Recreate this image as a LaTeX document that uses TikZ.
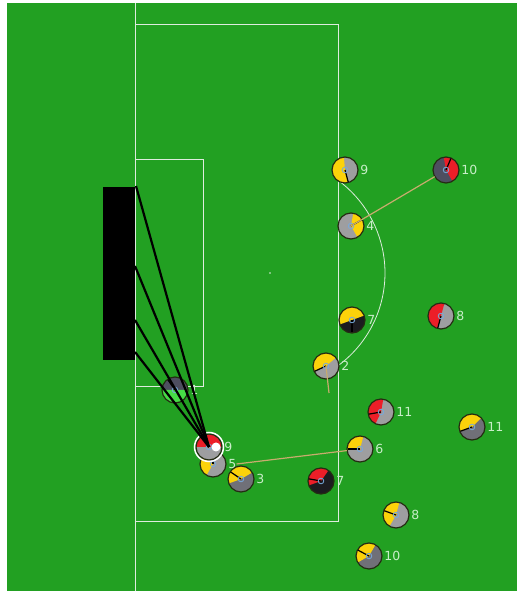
\documentclass[tikz,border=0pt]{standalone}
\usepackage{fontspec}
\setsansfont{DejaVu Sans}
\usepackage{xcolor}
\usetikzlibrary{calc}

\definecolor{pitch}{RGB}{34,160,34}
\definecolor{chalk}{RGB}{222,236,222}
\definecolor{tyellow}{RGB}{252,210,10}
\definecolor{tred}{RGB}{236,30,40}
\definecolor{tgreen}{RGB}{70,220,70}
\definecolor{tslate}{RGB}{78,78,96}
\definecolor{tblack}{RGB}{28,28,32}
\definecolor{rgray}{RGB}{158,158,160}
\definecolor{rgrayd}{RGB}{112,112,120}
\definecolor{rim}{RGB}{36,44,18}
\definecolor{eyeblue}{RGB}{120,170,220}
\definecolor{numcol}{RGB}{200,238,200}
\definecolor{tan}{RGB}{200,172,110}

% robot: name, x, y, team colour, back colour, from, to, heading, number
\newcommand{\robot}[9]{%
  \node[robot, fill=#5] (#1) at (#2,#3) {};
  \fill[#4] (#1.center) -- ++(#6:13) arc[start angle=#6, end angle=#7, radius=13] -- cycle;
  \draw[robotrim] (#1.center) circle[radius=13];
  \draw[heading] (#1.center) -- ++(#8:12.5);
  \draw[eye] (#1.center) circle[radius=2.8];
  \node[num] (#1num) at ([xshift=2pt]#1.east) {#9};
}

\begin{document}
\begin{tikzpicture}[x=1pt, y=1pt,
  font=\sffamily\fontsize{12.5}{14}\selectfont,
  robot/.style={circle, minimum size=26pt, inner sep=0pt},
  robotrim/.style={draw=rim, line width=1.2pt},
  heading/.style={black, line width=1.2pt},
  eye/.style={draw=eyeblue, line width=0.8pt},
  num/.style={anchor=west, inner sep=0pt, text=numcol},
  fieldline/.style={chalk, line width=1pt},
  shotline/.style={black, line width=2.2pt},
  tanline/.style={tan, line width=1.2pt}]
  \useasboundingbox (0,0) rectangle (517,591);
  \fill[white] (0,0) rectangle (517,591);
  \fill[pitch] (7,0) rectangle (517,588);
  % field markings
  \draw[fieldline] (135,0) -- (135,588);
  \draw[fieldline] (135,566) -- (338,566) -- (338,69) -- (135,69);
  \draw[fieldline] (135,431) -- (203,431) -- (203,204) -- (135,204);
  \draw[fieldline, line width=0.8pt] ($(270,318)+(-53.7:115)$) arc[start angle=-53.7, end angle=53.7, radius=115];
  \fill[chalk] (270,318) circle[radius=0.8];
  \fill[black] (103,231) rectangle (135,404);
  % goal line targets
  \coordinate (g1) at (136,405);
  \coordinate (g2) at (135,325);
  \coordinate (g3) at (135,271);
  \coordinate (g4) at (135,239);
  % goalie
  \robot{r1}{175}{201}{tgreen}{tslate}{180}{360}{125}{1}
  % players
  \robot{y9}{345}{421}{tyellow}{rgray}{95}{285}{-75}{9}
  \robot{r10}{446}{421}{tred}{tslate}{-60}{100}{67}{10}
  \robot{y4}{351}{365}{tyellow}{rgray}{-60}{80}{30}{4}
  \draw[tanline] (y4.center) -- (r10);
  \robot{y7}{352}{271}{tyellow}{tblack}{20}{200}{-90}{7}
  \robot{r8}{441}{275}{tred}{rgray}{75}{255}{255}{8}
  \robot{y2}{326}{225}{tyellow}{rgray}{40}{205}{205}{2}
  \coordinate (y2tip) at (329,198);
  \draw[tanline] (y2.center) -- (y2tip);
  \robot{r11}{381}{179}{tred}{rgray}{80}{245}{190}{11}
  \robot{y11}{472}{164}{tyellow}{rgrayd}{45}{200}{200}{11}
  \robot{y6}{360}{142}{tyellow}{rgray}{75}{185}{180}{6}
  \robot{y5}{213}{127}{tyellow}{rgray}{150}{240}{90}{5}
  \draw[tanline] (y5num.east) -- (y6);
  \robot{y3}{241}{112}{tyellow}{rgrayd}{30}{200}{146}{3}
  \robot{r7}{321}{110}{tred}{tblack}{55}{200}{170}{7}
  \robot{y8}{396}{76}{tyellow}{rgray}{75}{240}{160}{8}
  \robot{y10}{369}{35}{tyellow}{rgrayd}{60}{210}{152}{10}
  \robot{r9}{209}{144}{tred}{rgray}{0}{180}{120}{9}
  \draw[white, line width=1.5pt] (r9.center) circle[radius=14.5];
  \node[circle, fill=white, minimum size=9pt, inner sep=0pt] (ball) at (216,144) {};
  % shot lines
  \foreach \g in {g1,g2,g3,g4}
    \draw[shotline] (r9.center) -- (\g);
\end{tikzpicture}
\end{document}
